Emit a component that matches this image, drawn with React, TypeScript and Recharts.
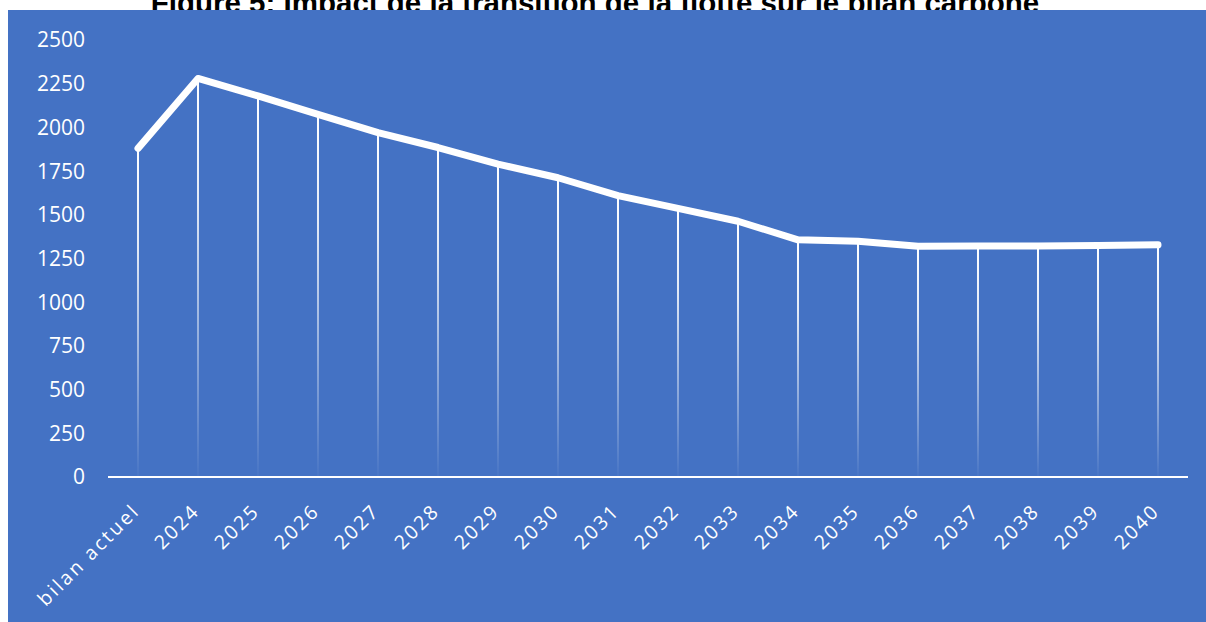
import React from 'react';
import { ComposedChart, Bar, Line, XAxis, YAxis } from 'recharts';

// categories on the x axis
const categories = [
  'bilan actuel', '2024', '2025', '2026', '2027', '2028', '2029', '2030', '2031',
  '2032', '2033', '2034', '2035', '2036', '2037', '2038', '2039', '2040',
];

// carbon footprint per year
const emissions = [
  1880, 2280, 2180, 2075, 1970, 1885, 1790, 1712, 1610,
  1537, 1463, 1357, 1349, 1320, 1321, 1322, 1324, 1328,
];

const yTicks = [0, 250, 500, 750, 1000, 1250, 1500, 1750, 2000, 2250, 2500];

const TITLE = 'Figure 5: Impact de la transition de la flotte sur le bilan carbone';
const BLUE = '#4472C4';

const data = categories.map((name, i) => ({ name, value: emissions[i] }));

// rotated category label with a bit of letter spacing, like the excel export
const SlantTick = (props: any) => {
  const { x, y, payload } = props;
  return (
    <g transform={`translate(${x + 3},${y + 27})`}>
      <text
        x={0}
        y={0}
        transform="rotate(-45)"
        textAnchor="end"
        fill="#ffffff"
        fontSize={19.5}
        fontFamily="'Open Sans', sans-serif"
        letterSpacing={2.5}
      >
        {payload.value}
      </text>
    </g>
  );
};

export default function App() {
  return (
    <div
      style={{
        position: 'fixed',
        left: 0,
        top: 0,
        width: 1206,
        height: 622,
        overflow: 'hidden',
        background: '#ffffff',
      }}
    >
      {/* title is partly hidden behind the chart area, as in the source */}
      <div
        style={{
          position: 'absolute',
          left: -8,
          width: 1206,
          top: -14,
          textAlign: 'center',
          fontFamily: "'Liberation Sans', Arial, sans-serif",
          fontWeight: 'bold',
          fontSize: 29.5,
          lineHeight: '34px',
          color: '#000',
          whiteSpace: 'nowrap',
        }}
      >
        {TITLE}
      </div>
      <div style={{ position: 'absolute', left: 8, top: 10, width: 1198, height: 612, background: BLUE }}>
        <ComposedChart
          width={1198}
          height={612}
          data={data}
          margin={{ top: 30, right: 18, bottom: 0, left: 0 }}
        >
          <defs>
            <linearGradient id="dropFade" x1="0" y1="0" x2="0" y2="1">
              <stop offset="0%" stopColor="#ffffff" stopOpacity={1} />
              <stop offset="30%" stopColor="#ffffff" stopOpacity={0.85} />
              <stop offset="100%" stopColor="#ffffff" stopOpacity={0.02} />
            </linearGradient>
          </defs>
          <XAxis
            dataKey="name"
            height={145}
            interval={0}
            tickLine={false}
            axisLine={{ stroke: '#ffffff', strokeWidth: 2 }}
            tick={<SlantTick />}
          />
          <YAxis
            width={100}
            domain={[0, 2500]}
            ticks={yTicks}
            axisLine={false}
            tickLine={false}
            tickMargin={17}
            tick={{ fill: '#ffffff', fontSize: 21, fontFamily: "'Open Sans', sans-serif" }}
          />
          <Bar dataKey="value" barSize={2} fill="url(#dropFade)" isAnimationActive={false} />
          <Line
            type="linear"
            dataKey="value"
            stroke="#ffffff"
            strokeWidth={7}
            strokeLinecap="round"
            strokeLinejoin="round"
            dot={false}
            activeDot={false}
            isAnimationActive={false}
          />
        </ComposedChart>
      </div>
    </div>
  );
}
